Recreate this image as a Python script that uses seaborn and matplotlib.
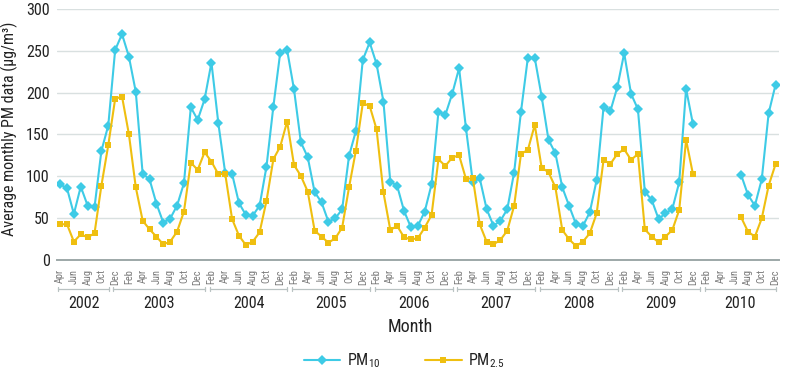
import numpy as np
import pandas as pd
import matplotlib
matplotlib.use("Agg")
import matplotlib.pyplot as plt
import matplotlib.transforms as mtransforms
from matplotlib.lines import Line2D
from matplotlib import font_manager as fm
import seaborn as sns

# ---------------- data ----------------
month_names = ["Jan", "Feb", "Mar", "Apr", "May", "Jun",
               "Jul", "Aug", "Sep", "Oct", "Nov", "Dec"]
first_month = "Apr"            # series starts April 2002
years = ["2002", "2003", "2004", "2005", "2006", "2007", "2008", "2009", "2010"]
year_group_months = [8, 14, 12, 12, 12, 12, 12, 12, 11]   # months under each year bracket

nan = np.nan
pm10 = [
    # 2002 Apr-Dec
    90.5, 85.7, 55, 87.7, 65, 63, 130.4, 160.7, 251,
    # 2003
    270, 243, 201, 103, 96.5, 67.4, 44.7, 49.5, 65, 91.7, 182.5, 167.5,
    # 2004
    192, 236, 163.5, 104, 103, 68, 54, 53, 65, 111.6, 183.4, 248,
    # 2005
    251, 204, 140.7, 122.8, 81, 69, 45.9, 49.8, 60.6, 124.4, 154.3, 239.2,
    # 2006
    260, 234.4, 189.4, 93.7, 88.5, 58.6, 39, 40.7, 57.8, 90.5, 177.4, 173.4,
    # 2007
    198.6, 229.3, 157.5, 92.9, 97.7, 61, 41, 46.7, 60.6, 104.5, 177.4, 242,
    # 2008
    241.5, 195.4, 143.5, 127.6, 86.9, 64.6, 42.7, 40.7, 57, 95.7, 182.6, 178.2,
    # 2009
    206.5, 247.2, 198.6, 180.2, 81.7, 71.8, 49, 55.8, 61, 92.9, 204.5, 162.3,
    # 2010
    nan, nan, nan, nan, nan, nan, 101.7, 77.8, 65, 96.5, 175.4, 209.3,
]
pm25 = [
    # 2002 Apr-Dec
    42.7, 42.7, 21.9, 30.7, 27.1, 31.9, 88.9, 137.2, 192.6,
    # 2003
    195.4, 150.3, 86.9, 47, 36.7, 27.9, 18.7, 21.9, 33.9, 57.8, 116.4, 107.7,
    # 2004
    128.8, 117.6, 102.5, 103, 49, 29.1, 17.9, 21.9, 33.1, 70.6, 120.4, 135.6,
    # 2005
    165.5, 113.6, 100.5, 81.7, 35.1, 27.9, 20.7, 25.9, 38.7, 86.9, 130.8, 187.4,
    # 2006
    184.2, 156.3, 80.9, 35.9, 40.7, 27.1, 24.7, 25.9, 38.7, 53.8, 120.4, 112.4,
    # 2007
    122.4, 125.2, 96.9, 97.7, 42.7, 21.9, 18.7, 23.9, 35.1, 64.6, 126.8, 131.6,
    # 2008
    161.5, 110.4, 104.9, 86.9, 35.9, 24.7, 16.7, 21.9, 31.9, 55.8, 119.6, 114.8,
    # 2009
    126.8, 132.4, 119.6, 126.8, 36.7, 27.9, 21.1, 27.9, 35.9, 59.8, 143.5, 102.5,
    # 2010
    nan, nan, nan, nan, nan, nan, 51, 33.9, 27.9, 49.8, 88.9, 114.4,
]
series_labels = ["PM$_{10}$", "PM$_{2.5}$"]

# ---------------- style ----------------
sns.set_style("white")
names = {f.name for f in fm.fontManager.ttflist}
family = None
for cand in ["Liberation Sans Narrow", "Roboto Condensed", "Open Sans Condensed"]:
    if cand in names:
        family = cand
        break
if family is None:
    family = "DejaVu Sans"
    plt.rcParams["font.stretch"] = "condensed"
plt.rcParams["font.family"] = [family, "DejaVu Sans"]
plt.rcParams["mathtext.fontset"] = "custom"
plt.rcParams["mathtext.rm"] = family
plt.rcParams["mathtext.it"] = family
plt.rcParams["mathtext.default"] = "regular"

c10 = "#3ECBE6"
c25 = "#EFBF10"
grid_c = "#D9E0E0"
axis_c = "#9DA8A8"
text_c = "#222222"

n = len(pm10)
start_idx = month_names.index(first_month)


def to_frame(vals):
    v = pd.Series(vals, dtype=float)
    seg = v.isna().cumsum()
    df = pd.DataFrame({"idx": np.arange(len(vals)), "val": v, "seg": seg})
    return df.dropna()


df10 = to_frame(pm10)
df25 = to_frame(pm25)

fig = plt.figure(figsize=(7.85, 3.72), dpi=100)
ax = fig.add_axes([0.0722, 0.3011, 0.9201, 0.6747])

sns.lineplot(data=df10, x="idx", y="val", units="seg", estimator=None, sort=False,
             color=c10, marker="D", markersize=5.0, markeredgewidth=0,
             linewidth=1.5, ax=ax, legend=False, zorder=3)
sns.lineplot(data=df25, x="idx", y="val", units="seg", estimator=None, sort=False,
             color=c25, marker="s", markersize=5.0, markeredgewidth=0,
             linewidth=1.5, ax=ax, legend=False, zorder=4)

ax.set_xlim(-0.5, n - 0.5)
ax.set_ylim(0, 300)
ax.set_yticks(np.arange(0, 301, 50))
ax.yaxis.grid(True, color=grid_c, linewidth=1.0)
ax.xaxis.grid(False)
ax.set_axisbelow(True)
for s in ["left", "right", "top"]:
    ax.spines[s].set_visible(False)
ax.spines["bottom"].set_color(axis_c)
ax.spines["bottom"].set_linewidth(1.4)
ax.spines["bottom"].set_zorder(5)

ax.set_xlabel("")
ax.set_ylabel("")
ax.tick_params(axis="y", length=0, pad=5, labelsize=11.5, labelcolor=text_c)

xt = np.arange(n)
xl = [month_names[(start_idx + i) % 12] if i % 2 == 0 else "" for i in xt]
ax.set_xticks(xt)
ax.set_xticklabels(xl, rotation=90)
ax.tick_params(axis="x", length=2.6, width=0.8, color=axis_c, pad=4,
               labelsize=7.5, labelcolor="#7A7A7A")

# year brackets
trans = mtransforms.blended_transform_factory(ax.transData, ax.transAxes)
bounds = np.concatenate([[-0.5], -0.5 + np.cumsum(year_group_months)])
y_br = -0.1167
cap = 0.008
for k, yr in enumerate(years):
    s, e = bounds[k] + 0.25, bounds[k + 1] - 0.45
    ax.plot([s, e], [y_br, y_br], transform=trans, clip_on=False,
            color="#B9C2C2", lw=0.9)
    for xx in (s, e):
        ax.plot([xx, xx], [y_br - cap, y_br + cap], transform=trans,
                clip_on=False, color="#B9C2C2", lw=0.9)
    ax.text((s + e) / 2, -0.1725, yr, transform=trans, ha="center", va="center",
            fontsize=11.5, color=text_c)

fig.text(0.0115, 0.6546, "Average monthly PM data (µg/m³)", rotation=90,
         ha="center", va="center", fontsize=11.5, color=text_c)
fig.text(0.522, 0.121, "Month", ha="center", va="center", fontsize=13,
         color=text_c)

handles = [
    Line2D([], [], color=c10, marker="D", markersize=5.0, markeredgewidth=0, lw=1.5),
    Line2D([], [], color=c25, marker="s", markersize=5.0, markeredgewidth=0, lw=1.5),
]
fig.legend(handles=handles, labels=series_labels, loc="center",
           bbox_to_anchor=(0.515, 0.03), ncol=2, frameon=False,
           handlelength=2.3, handletextpad=0.4, columnspacing=2.8,
           fontsize=11.5, labelcolor=text_c)

fig.savefig("out.png", dpi=100)
